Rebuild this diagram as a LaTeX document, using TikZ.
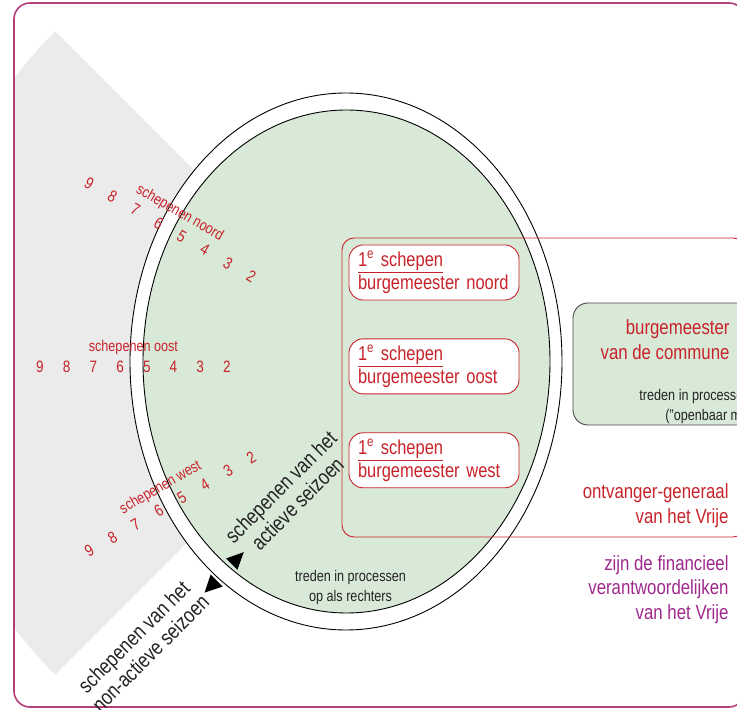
\documentclass[tikz,border=0pt]{standalone}
\usepackage{fontspec}
\setmainfont{Liberation Sans}[FakeStretch=0.82]
\usetikzlibrary{positioning}
\usetikzlibrary{calc}

\definecolor{vrijered}{RGB}{200,35,42}
\definecolor{finpurple}{RGB}{158,40,140}
\definecolor{framepink}{RGB}{180,62,122}
\definecolor{seizgreen}{RGB}{217,233,216}
\definecolor{fangray}{RGB}{235,235,235}
\definecolor{textgray}{RGB}{35,35,35}
\definecolor{boxgray}{RGB}{70,70,70}

\begin{document}
\begin{tikzpicture}[
		x=1pt, y=1pt,
		line width=0.9pt,
		node distance=38pt,
		schepbox/.style={draw=vrijered, fill=white, rounded corners=14pt, minimum width=170pt, minimum height=55pt, text width=152pt, inner xsep=9pt, align=left, text=vrijered, font=\fontsize{20.1}{23}\selectfont},
		bigtext/.style={inner sep=0pt, font=\fontsize{20.5}{24.5}\selectfont},
		smalltext/.style={inner sep=0pt, text=textgray, font=\fontsize{15.4}{20}\selectfont},
		seizoen/.style={inner sep=0pt, align=center, rotate=45, text=textgray, font=\fontsize{21.3}{23.5}\selectfont},
		num/.style={inner sep=0pt, text=vrijered, font=\fontsize{16.5}{16.5}\selectfont},
		rowlabel/.style={inner sep=0pt, text=vrijered, font=\fontsize{15.4}{15.4}\selectfont},
	]
	\useasboundingbox (0,0) rectangle (737,710);
	\begin{scope}
		\clip[rounded corners=16pt] (14,3) rectangle (745,707);
		\fill[fangray] (377,357) -- ++(135:455) arc[start angle=135, end angle=225, radius=455] -- cycle;
	\end{scope}
	\draw[framepink, line width=1.6pt, rounded corners=16pt] (14,3) rectangle (745,707);

	\draw[fill=white] (346,348.5) ellipse[x radius=216, y radius=268.5];
	\draw[fill=seizgreen] (346.5,348.5) ellipse[x radius=203.5, y radius=251.5];

	\draw[boxgray, fill=seizgreen, rounded corners=15pt] (573,285) rectangle (760,407);
	\draw[vrijered, rounded corners=12pt] (342,173) rectangle (745,472);

	\node[schepbox] (bnoord) at (434,437.5) {\underline{1\textsuperscript{e} schepen}\\burgemeester noord};
	\node[schepbox, below=of bnoord] (boost) {\underline{1\textsuperscript{e} schepen}\\burgemeester oost};
	\node[schepbox, below=of boost] (bwest) {\underline{1\textsuperscript{e} schepen}\\burgemeester west};

	\node[bigtext, text=vrijered, align=right, anchor=east] (commune) at (730,370.5) {burgemeester\\van de commune};
	\node[smalltext, align=left, anchor=west] (openbaar) at (639,303.5) {treden in processen\\\hspace*{26pt}("openbaar ministerie")};
	\node[bigtext, text=vrijered, align=right, anchor=east] (ontvanger) at (729,204.5) {ontvanger-generaal\\van het Vrije};
	\node[bigtext, text=finpurple, align=right, anchor=east] (financieel) at (729,120.5) {zijn de financieel\\verantwoordelijken\\van het Vrije};
	\node[smalltext, align=center] (rechters) at (350.5,122) {treden in processen\\op als rechters};

	\coordinate (hub) at (408,343);
	\foreach \ang/\rowname in {150/noord, 180/oost, 210/west} {
		\foreach \n in {2,...,9}
			\node[num, rotate=\ang-180] (n-\rowname-\n) at ($(hub)+(\ang:{127.7+26.7*\n})$) {\n};
		\node[rowlabel, rotate=\ang-180] (l-\rowname) at ($(hub)+(\ang:274.6)+(\ang-90:19)$) {schepenen \rowname};
	}

	\node[seizoen] (actief) at (289,215) {schepenen van het\\actieve seizoen};
	\node[seizoen] (nonactief) at (142,65) {schepenen van het\\non-actieve seizoen};
	\fill[shift={(236.7,150.8)}, rotate=45] (10,0) -- (-7,8) -- (-7,-8) -- cycle;
	\fill[shift={(211.7,124.5)}, rotate=225] (10,0) -- (-7,8.5) -- (-7,-8.5) -- cycle;
\end{tikzpicture}
\end{document}
